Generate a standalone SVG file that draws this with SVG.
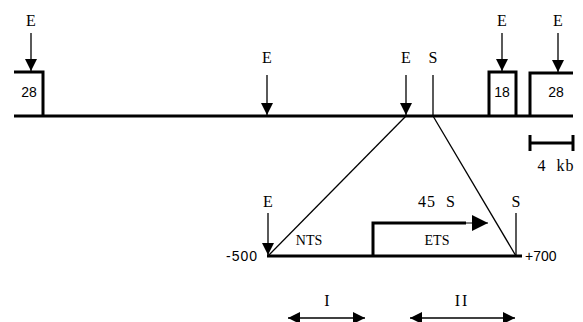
<svg xmlns="http://www.w3.org/2000/svg" width="583" height="322" viewBox="0 0 583 322">
<defs>
<marker id="ah" viewBox="0 0 10 10" refX="10" refY="5" markerWidth="12" markerHeight="14" markerUnits="userSpaceOnUse" orient="auto">
<path d="M0,0 L10,5 L0,10 Z" fill="#000"/>
</marker>
<marker id="ahb" viewBox="0 0 10 10" refX="10" refY="5" markerWidth="22" markerHeight="16" markerUnits="userSpaceOnUse" orient="auto">
<path d="M0,0 L10,5 L0,10 Z" fill="#000"/>
</marker>
<marker id="ahd" viewBox="0 0 10 10" refX="10" refY="5" markerWidth="15" markerHeight="12" markerUnits="userSpaceOnUse" orient="auto-start-reverse">
<path d="M0,0 L10,5 L0,10 Z" fill="#000"/>
</marker>
</defs>
<style>
.mono{font-family:"Liberation Serif",serif;font-size:16px;fill:#000}
.sans{font-family:"Liberation Sans",sans-serif;font-size:14px;fill:#000}
.serif{font-family:"Liberation Serif",serif;font-size:14px;fill:#000}
.thick{stroke:#000;stroke-width:3;fill:none}
.thin{stroke:#000;stroke-width:1.3;fill:none}
.arr{stroke:#000;stroke-width:1.3;fill:none;marker-end:url(#ah)}
</style>
<rect width="583" height="322" fill="#fff"/>
<g id="genome">
<line class="thick" x1="14" y1="116" x2="573" y2="116"/>
</g>
<g id="box28left">
<polyline class="thick" points="14,72 43,72 43,116"/>
<text class="sans" x="29" y="97" text-anchor="middle">28</text>
</g>
<g id="box18">
<polyline class="thick" points="489,116 489,72 516,72 516,116"/>
<text class="sans" x="502" y="97" text-anchor="middle">18</text>
</g>
<g id="box28right">
<polyline class="thick" points="530,116 530,73 573,73"/>
<text class="sans" x="556" y="97" text-anchor="middle">28</text>
</g>
<g id="sites-top">
<text class="mono" x="31" y="26" text-anchor="middle">E</text>
<line class="arr" x1="31" y1="33" x2="31" y2="71"/>
<text class="mono" x="267" y="63" text-anchor="middle">E</text>
<line class="arr" x1="267" y1="75" x2="267" y2="115"/>
<text class="mono" x="406" y="63" text-anchor="middle">E</text>
<line class="arr" x1="406" y1="75" x2="406" y2="115"/>
<text class="mono" x="433" y="63" text-anchor="middle">S</text>
<line class="thin" x1="433" y1="75" x2="433" y2="116"/>
<text class="mono" x="502" y="26" text-anchor="middle">E</text>
<line class="arr" x1="502" y1="33" x2="502" y2="71"/>
<text class="mono" x="558" y="26" text-anchor="middle">E</text>
<line class="arr" x1="558" y1="33" x2="558" y2="72"/>
</g>
<g id="scalebar">
<line class="thick" x1="530" y1="143" x2="573" y2="143"/>
<line class="thick" x1="530" y1="135" x2="530" y2="151"/>
<line class="thick" x1="573" y1="135" x2="573" y2="151"/>
<text class="mono" x="556" y="171" text-anchor="middle" letter-spacing="1" xml:space="preserve">4  kb</text>
</g>
<g id="connectors">
<line class="thin" x1="406" y1="116" x2="268" y2="256"/>
<line class="thin" x1="433" y1="116" x2="516" y2="256"/>
</g>
<g id="detail">
<line class="thick" x1="267" y1="256" x2="522" y2="256"/>
<text class="sans" x="258" y="261" text-anchor="end" letter-spacing="1">-500</text>
<text class="sans" x="525" y="261">+700</text>
<text class="mono" x="268" y="207" text-anchor="middle">E</text>
<line class="arr" x1="268" y1="213" x2="268" y2="255"/>
<text class="mono" x="516" y="207" text-anchor="middle">S</text>
<line class="thin" x1="516" y1="213" x2="516" y2="256"/>
</g>
<g id="ets">
<polyline class="thick" points="373,256 373,223 466,223"/>
<line x1="464" y1="223" x2="488" y2="223" stroke="#000" stroke-width="1" marker-end="url(#ahb)"/>
<text class="mono" x="437" y="207" text-anchor="middle" letter-spacing="1" xml:space="preserve">45  S</text>
<text class="serif" x="437" y="245" text-anchor="middle">ETS</text>
<text class="serif" x="309" y="245" text-anchor="middle">NTS</text>
</g>
<g id="region-I">
<text class="mono" x="327" y="306" text-anchor="middle">I</text>
<line x1="288" y1="318" x2="365" y2="318" stroke="#000" stroke-width="1.5" marker-start="url(#ahd)" marker-end="url(#ahd)"/>
</g>
<g id="region-II">
<text class="mono" x="462" y="306" text-anchor="middle" letter-spacing="2">II</text>
<line x1="410" y1="318" x2="515" y2="318" stroke="#000" stroke-width="1.5" marker-start="url(#ahd)" marker-end="url(#ahd)"/>
</g>
</svg>
